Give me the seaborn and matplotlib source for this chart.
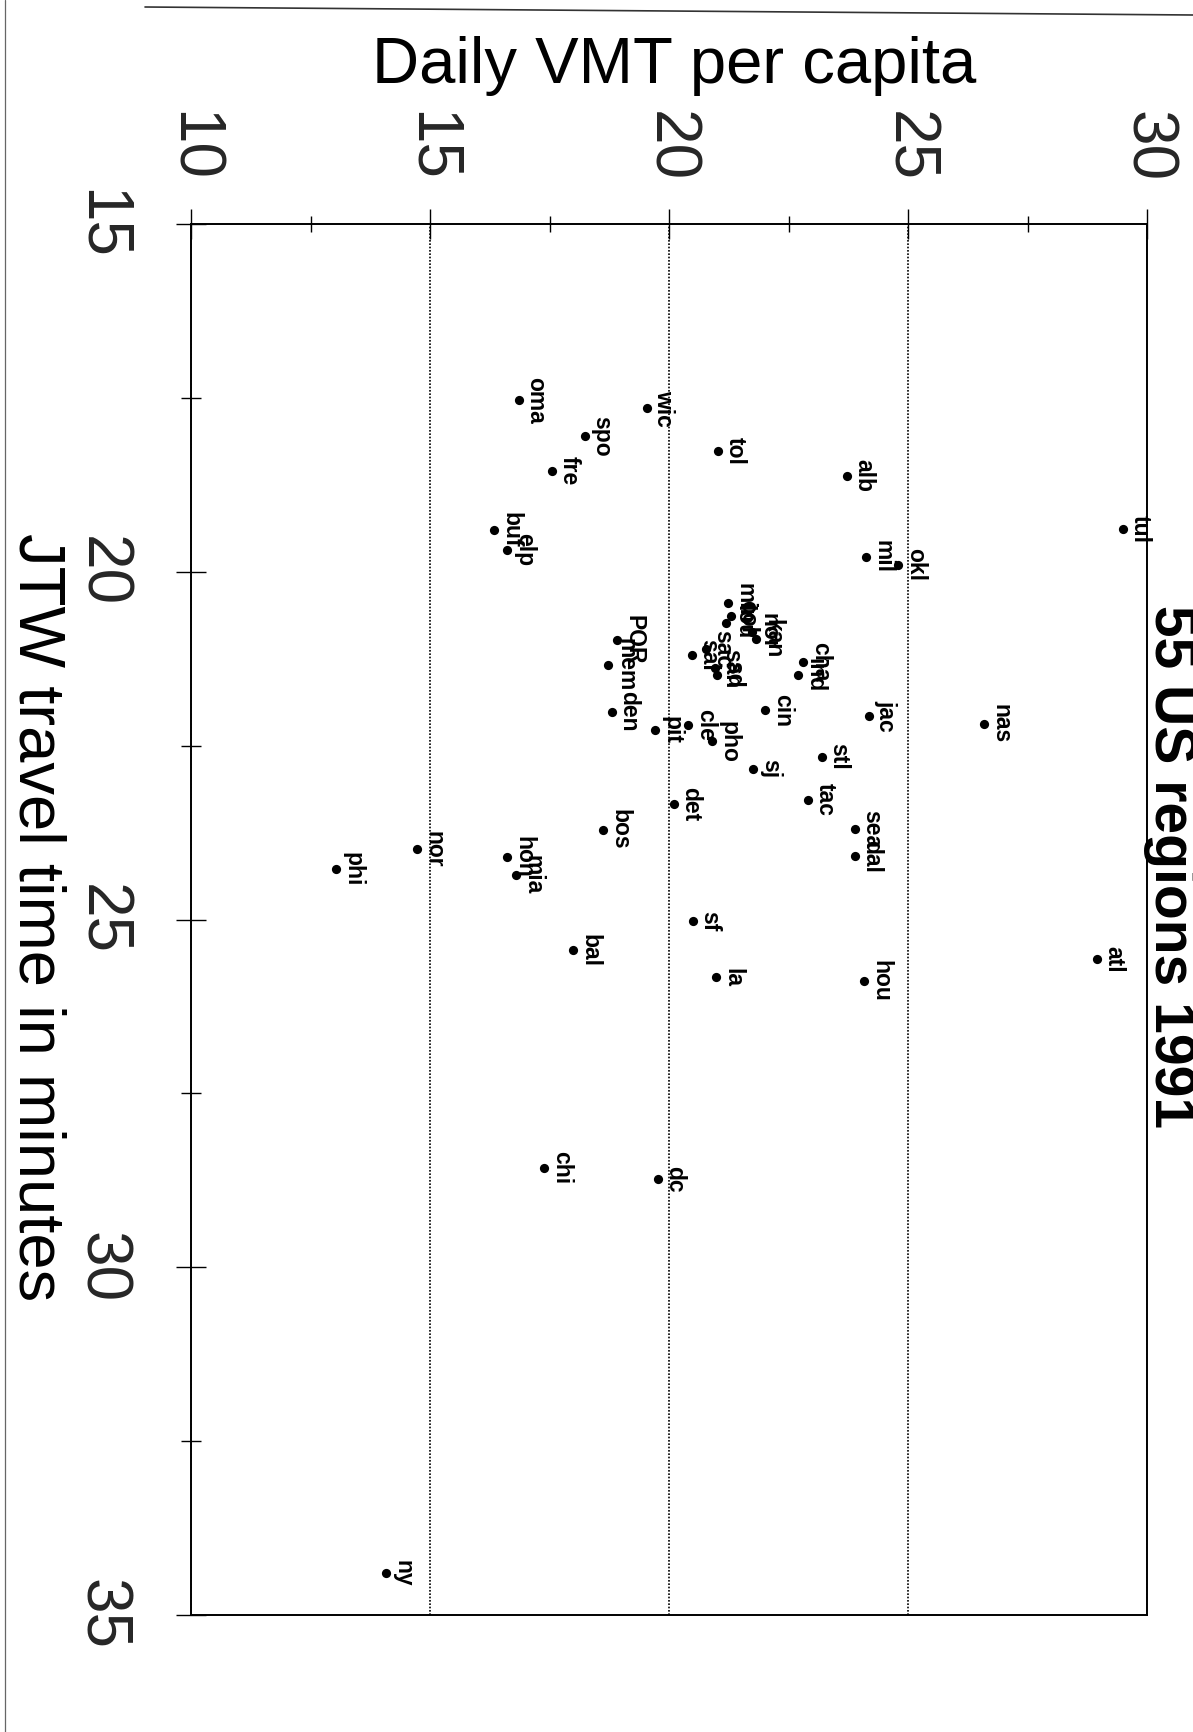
import numpy as np
import pandas as pd
import matplotlib
matplotlib.use("Agg")
import matplotlib.pyplot as plt
from matplotlib.lines import Line2D
from matplotlib.ticker import MultipleLocator, FixedLocator
import seaborn as sns

# Region codes with daily vehicle miles travelled per capita and
# average journey-to-work time (minutes), 1991.
regions = ["tul", "oma", "wic", "spo", "tol", "fre", "alb", "buf", "elp", "mil",
           "okl", "min", "col", "lou", "nor", "kan", "POR", "sal", "sac", "san",
           "sd", "cha", "ind", "mem", "cin", "den", "jac", "nas", "cle", "pit",
           "pho", "stl", "sj", "tac", "det", "sea", "bos", "nor", "dal", "hon",
           "phi", "mia", "sf", "bal", "atl", "la", "hou", "chi", "dc", "ny"]
vmt = [29.50, 16.85, 19.53, 18.24, 21.02, 17.54, 23.72, 16.34, 16.61, 24.11,
       24.80, 21.23, 21.29, 21.20, 21.73, 21.82, 18.90, 20.48, 20.77, 20.96,
       21.00, 22.81, 22.70, 18.73, 22.01, 18.80, 24.18, 26.58, 20.40, 19.71,
       20.89, 23.19, 21.76, 22.90, 20.10, 23.88, 18.61, 14.72, 23.89, 16.61,
       13.02, 16.79, 20.49, 17.99, 28.95, 20.98, 24.08, 17.39, 19.76, 14.07]
jtw = [19.39, 17.53, 17.65, 18.05, 18.26, 18.55, 18.62, 19.40, 19.68, 19.78,
       19.90, 20.45, 20.64, 20.73, 20.86, 20.96, 20.98, 21.20, 21.11, 21.39,
       21.48, 21.29, 21.48, 21.34, 21.99, 22.01, 22.07, 22.19, 22.20, 22.28,
       22.44, 22.66, 22.83, 23.28, 23.34, 23.70, 23.71, 23.99, 24.09, 24.10,
       24.28, 24.36, 25.02, 25.44, 25.57, 25.83, 25.89, 28.57, 28.73, 34.40]

vmt_ticks = [10, 15, 20, 25, 30]
jtw_ticks = [15, 20, 25, 30, 35]

sns.set_theme(style="white")
plt.rcParams["font.family"] = ["Liberation Sans", "DejaVu Sans"]

fig = plt.figure(figsize=(11.93, 17.32), dpi=100)
fig.patch.set_facecolor("white")
ax = fig.add_axes([0.1604, 0.0676, 0.8010, 0.8030])

df = pd.DataFrame({"region": regions, "vmt": vmt, "jtw": jtw})
sns.scatterplot(data=df, x="vmt", y="jtw", color="black", s=44,
                linewidth=0, ax=ax, zorder=3, legend=False)

ax.set_xlim(vmt_ticks[0], vmt_ticks[-1])
ax.set_ylim(jtw_ticks[-1], jtw_ticks[0])
ax.set_xlabel("")
ax.set_ylabel("")

# dotted reference lines at the VMT major ticks
ax.xaxis.set_major_locator(FixedLocator(vmt_ticks))
ax.xaxis.set_minor_locator(MultipleLocator(2.5))
ax.yaxis.set_major_locator(FixedLocator(jtw_ticks))
ax.yaxis.set_minor_locator(MultipleLocator(2.5))
ax.xaxis.grid(True, which="major", color="black", linestyle=(0, (1, 1)), linewidth=1.2)
ax.yaxis.grid(False)

for side, sp in ax.spines.items():
    sp.set_visible(True)
    sp.set_color("black")
    sp.set_linewidth(1.4)

ax.xaxis.tick_top()
ax.tick_params(axis="x", which="both", direction="inout", top=True, bottom=False,
               labeltop=True, labelbottom=False, color="black", width=1)
ax.tick_params(axis="x", which="major", length=21, pad=20, labelsize=46,
               labelrotation=-90)
ax.tick_params(axis="x", which="minor", length=11)
ax.tick_params(axis="y", which="both", direction="inout", left=True, right=False,
               color="black", width=1)
ax.tick_params(axis="y", which="major", length=21, pad=33, labelsize=46,
               labelrotation=-90)
ax.tick_params(axis="y", which="minor", length=14)
for lab in ax.get_yticklabels():
    lab.set_verticalalignment("center")
    lab.set_horizontalalignment("right")

# region codes next to each point
for name, x, y in zip(regions, vmt, jtw):
    ax.annotate(name, (x, y), xytext=(4, 0), textcoords="offset points",
                rotation=-90, ha="left", va="center", fontsize=16.5,
                fontweight="bold", color="black", zorder=4)

fig.text(0.565, 0.962, "Daily VMT per capita", ha="center", va="center",
         fontsize=47, color="black")
fig.text(0.031, 0.4706, "JTW travel time in minutes", ha="center", va="center",
         rotation=-90, fontsize=47, color="black")
fig.text(0.958, 0.4994, "55 US regions 1991", ha="left", va="center",
         rotation=-90, fontsize=41, fontweight="bold", color="black")

# page edges
fig.add_artist(Line2D([145 / 1193, 1.0], [1 - 7 / 1732, 1 - 15 / 1732],
                      transform=fig.transFigure, color="#333333", lw=1.2))
fig.add_artist(Line2D([5 / 1193, 5 / 1193], [0.0, 1.0],
                      transform=fig.transFigure, color="#666666", lw=0.9))

fig.savefig("out.png", dpi=100, facecolor="white")
